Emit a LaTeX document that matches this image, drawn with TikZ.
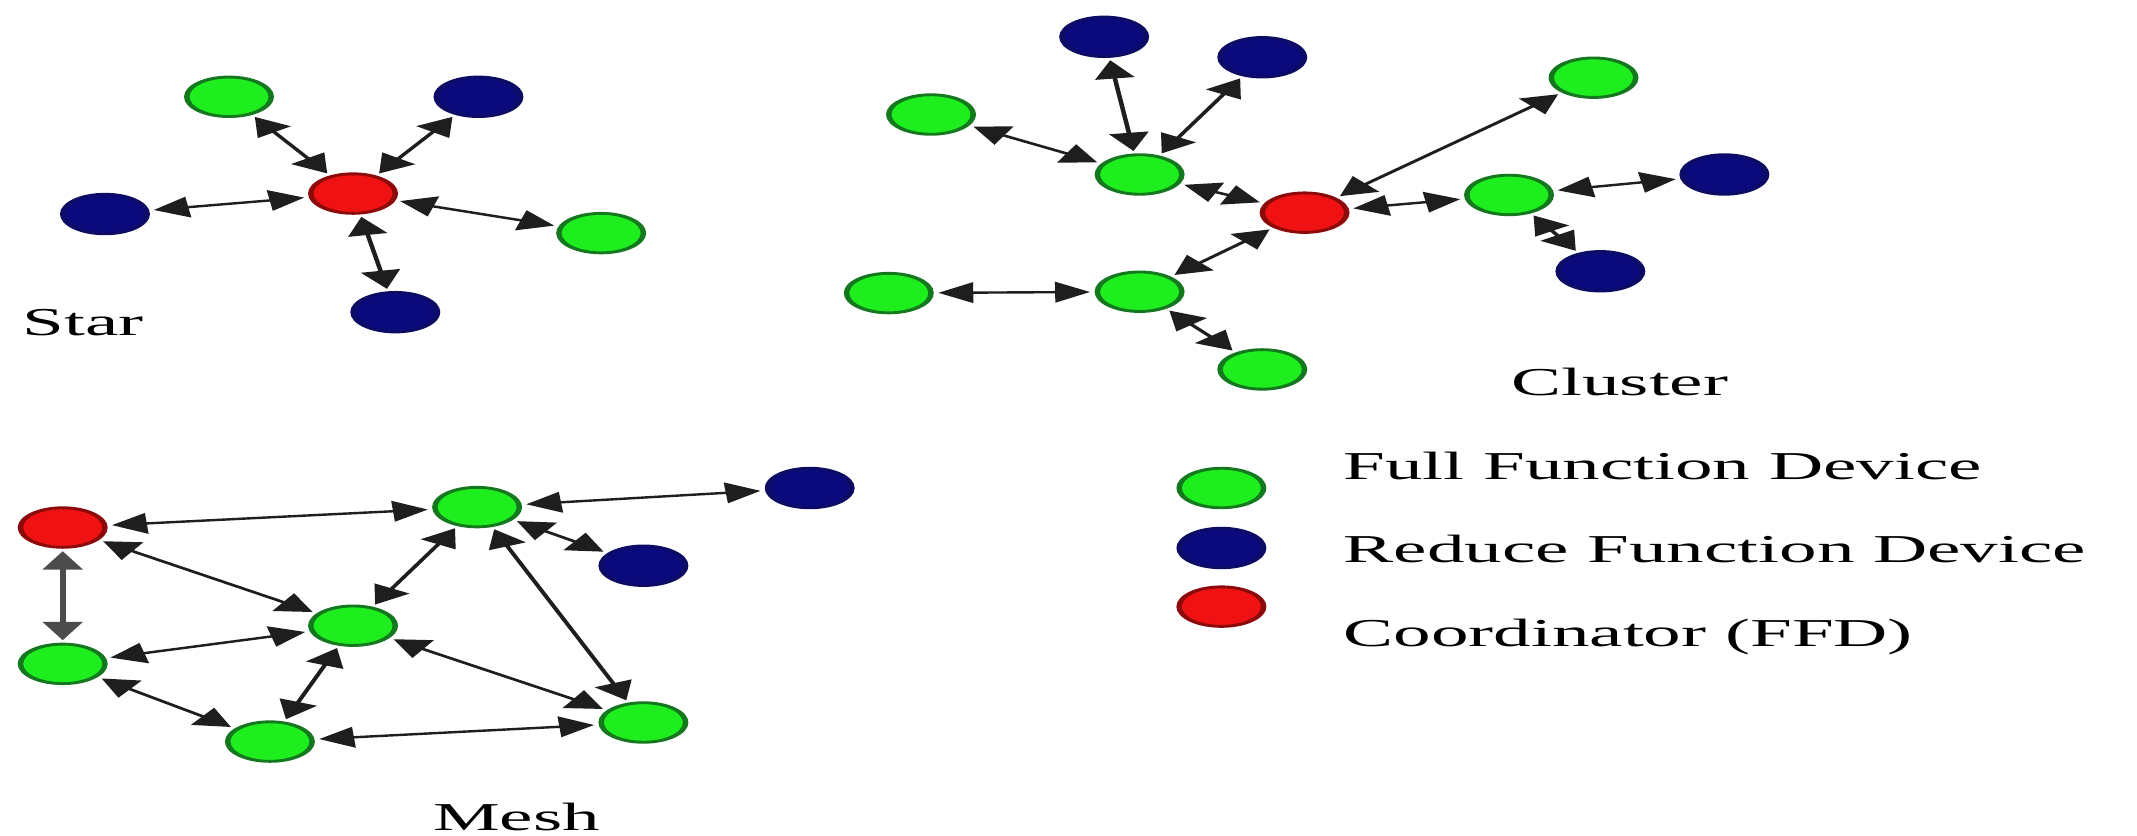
\documentclass[tikz,border=0pt]{standalone}
\usepackage{fontspec}
\setmainfont{Liberation Serif}
\usetikzlibrary{arrows.meta,shapes.geometric}

\definecolor{ffdfill}{RGB}{30,238,30}
\definecolor{ffdline}{RGB}{20,120,30}
\definecolor{rfdfill}{RGB}{10,10,125}
\definecolor{rfdline}{RGB}{12,12,100}
\definecolor{coordfill}{RGB}{240,18,18}
\definecolor{coordline}{RGB}{140,10,10}
\definecolor{linkgray}{RGB}{30,30,30}

\tikzset{
  dev/.style={ellipse, minimum width=0.6526cm, minimum height=0.58cm, inner sep=0pt, line width=1.2pt},
  ffd/.style={dev, fill=ffdfill, draw=ffdline},
  rfd/.style={dev, fill=rfdfill, draw=rfdline},
  coord/.style={dev, fill=coordfill, draw=coordline},
  link/.style={draw=linkgray, line width=1pt,
    {Triangle[length=0.27cm,width=0.3cm]}-{Triangle[length=0.27cm,width=0.3cm]},
    shorten <=1pt, shorten >=1pt},
  lbl/.style={font=\fontsize{16.5}{20}\selectfont, inner sep=0pt, text=black}
}

\begin{document}
\begin{tikzpicture}
\useasboundingbox (0,0) rectangle (31.36cm,-12.26cm);
\fill[white] (0,0) rectangle (31.36cm,-12.26cm);

% everything is drawn in an unstretched frame and widened horizontally
\begin{scope}[transform canvas={xscale=1.9}, x=0.010526cm, y=-0.02cm]

  % ---------- Star ----------
  \node[coord] (sc)  at (259,142) {};
  \node[ffd]   (sg1) at (168,71)  {};
  \node[rfd]   (sb1) at (351,71)  {};
  \node[rfd]   (sb2) at (77,157)  {};
  \node[ffd]   (sg2) at (441,171) {};
  \node[rfd]   (sb3) at (290,229) {};
  \foreach \n in {sg1,sb1,sb2,sg2,sb3} \draw[link] (sc) -- (\n);
  \node[lbl, anchor=base west] (starlbl) at (16,246) {Star};

  % ---------- Cluster ----------
  \node[coord] (cc)  at (957,156) {};
  \node[ffd]   (cg1) at (836,128) {};
  \node[ffd]   (cg2) at (683,84)  {};
  \node[rfd]   (cb1) at (810,27)  {};
  \node[rfd]   (cb2) at (926,42)  {};
  \node[ffd]   (cg3) at (1169,57) {};
  \node[ffd]   (cg4) at (1107,143) {};
  \node[rfd]   (cb3) at (1265,128) {};
  \node[rfd]   (cb4) at (1174,199) {};
  \node[ffd]   (cg5) at (836,214) {};
  \node[ffd]   (cg6) at (652,215) {};
  \node[ffd]   (cg7) at (926,271) {};
  \draw[link] (cg1) -- (cg2);
  \draw[link] (cg1) -- (cb1);
  \draw[link] (cg1) -- (cb2);
  \draw[link] (cg1) -- (cc);
  \draw[link] (cc) -- (cg3);
  \draw[link] (cc) -- (cg4);
  \draw[link] (cg4) -- (cb3);
  \draw[link] (cg4) -- (cb4);
  \draw[link] (cc) -- (cg5);
  \draw[link] (cg5) -- (cg6);
  \draw[link] (cg5) -- (cg7);
  \node[lbl, anchor=base west] (clusterlbl) at (1108,290) {Cluster};

  % ---------- Mesh ----------
  \node[coord] (mc)  at (46,387)  {};
  \node[ffd]   (mg1) at (350,372) {};
  \node[rfd]   (mb1) at (594,358) {};
  \node[rfd]   (mb2) at (472,415) {};
  \node[ffd]   (mg2) at (259,459) {};
  \node[ffd]   (mg3) at (46,487)  {};
  \node[ffd]   (mg4) at (198,544) {};
  \node[ffd]   (mg5) at (472,530) {};
  \draw[link] (mc) -- (mg1);
  \draw[link] (mc) -- (mg2);
  \draw[link, line width=1.3pt, draw=black!70] (mc) -- (mg3);
  \draw[link] (mg1) -- (mb1);
  \draw[link] (mg1) -- (mb2);
  \draw[link] (mg1) -- (mg2);
  \draw[link] (mg1) -- (mg5);
  \draw[link] (mg2) -- (mg3);
  \draw[link] (mg2) -- (mg4);
  \draw[link] (mg2) -- (mg5);
  \draw[link] (mg3) -- (mg4);
  \draw[link] (mg4) -- (mg5);
  \node[lbl, anchor=base west] (meshlbl) at (317,609) {Mesh};

  % ---------- Legend ----------
  \node[ffd]   (keyffd) at (896,358) {};
  \node[rfd]   (keyrfd) at (896,402) {};
  \node[coord] (keyco)  at (896,445) {};
  \node[lbl, anchor=base west] (keyffdtxt) at (985,351.5) {Full Function Device};
  \node[lbl, anchor=base west] (keyrfdtxt) at (985,413)   {Reduce Function Device};
  \node[lbl, anchor=base west] (keycotxt)  at (985,474.5) {Coordinator (FFD)};

\end{scope}
\end{tikzpicture}
\end{document}
